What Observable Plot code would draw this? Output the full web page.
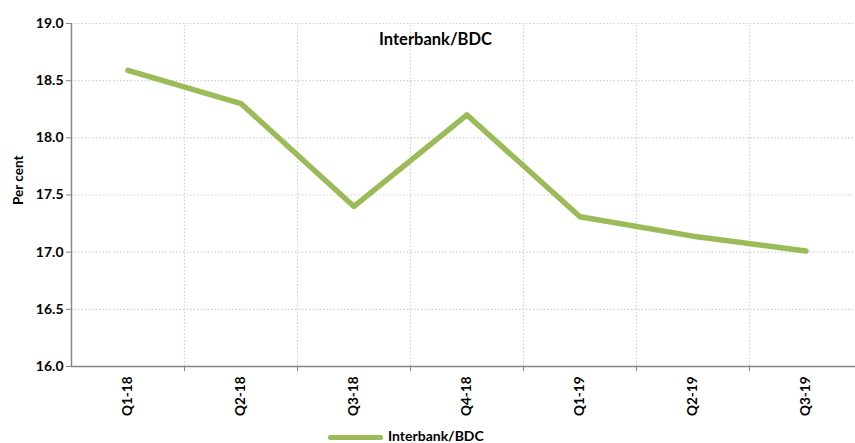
<!DOCTYPE html>
<html>
<head>
<meta charset="utf-8">
<script src="https://cdn.jsdelivr.net/npm/d3@7"></script>
<script src="https://cdn.jsdelivr.net/npm/@observablehq/plot@0.6"></script>
<style>
  html, body { margin: 0; padding: 0; background: #fff; }
  #chart svg { display: block; }
  .legend {
    height: 16px; position: relative;
    font: bold 14px Lato, "Open Sans", sans-serif; color: #000;
  }
  .legend .swatch {
    position: absolute; left: 328px; top: 8px; width: 55px; height: 5px;
    background: #9bbb59; border-radius: 3px;
  }
  .legend .label { position: absolute; left: 388px; top: 1px; line-height: 16px; }
</style>
</head>
<body>
<div id="chart"></div>
<div class="legend"><span class="swatch"></span><span class="label">Interbank/BDC</span></div>
<script>
const quarters = ["Q1-18", "Q2-18", "Q3-18", "Q4-18", "Q1-19", "Q2-19", "Q3-19"];
const rates = [18.59, 18.30, 17.40, 18.20, 17.31, 17.14, 17.01];
const yTicks = [16.0, 16.5, 17.0, 17.5, 18.0, 18.5, 19.0];
const seriesName = "Interbank/BDC";
const yLabel = "Per cent";

const data = quarters.map((q, i) => ({i, quarter: q, rate: rates[i]}));
const idx = quarters.map((q, i) => i);
const bounds = quarters.slice(1).map((q, i) => i + 0.5);

const axisGrey = "#868686";
const gridGrey = "#d0d0d0";
const font = "Lato, 'Open Sans', sans-serif";

const chart = Plot.plot({
  width: 855,
  height: 427,
  marginTop: 23,
  marginBottom: 61,
  marginLeft: 71,
  marginRight: 0,
  style: {fontFamily: font, fontWeight: "bold", fontSize: "14px", color: "#000", background: "#fff"},
  x: {type: "linear", domain: [-0.5, quarters.length - 0.5], range: [71, 862]},
  y: {domain: [16, 19]},
  marks: [
    // dotted horizontal gridlines
    Plot.ruleY(yTicks.slice(1), {stroke: gridGrey, strokeWidth: 1.2, strokeDasharray: "1.5,2"}),
    // dotted vertical gridlines between quarters
    Plot.ruleX(bounds, {y1: 16, y2: 19, stroke: gridGrey, strokeWidth: 1.2, strokeDasharray: "1.5,2"}),
    // axis lines
    Plot.ruleX([-0.5], {y1: 16, y2: 19, stroke: axisGrey, strokeWidth: 1.5}),
    Plot.ruleY([16], {stroke: axisGrey, strokeWidth: 1.5}),
    Plot.axisY({ticks: yTicks, tickFormat: d => d.toFixed(1), tickSize: 5, tickPadding: 3,
                stroke: axisGrey, label: null, fontSize: 14}),
    Plot.axisX({ticks: bounds, tickFormat: () => "", tickSize: 5, stroke: axisGrey, label: null}),
    Plot.axisX({ticks: idx, tickFormat: i => quarters[i], tickSize: 0, tickPadding: 10,
                tickRotate: -90, label: null, fontSize: 13.5}),
    // y axis title
    Plot.text([yLabel], {frameAnchor: "left", dx: -53, dy: 10, rotate: -90,
                         fontSize: 13.5, fontWeight: "bold", fill: "#000"}),
    // chart title
    Plot.text([seriesName], {frameAnchor: "top", dx: -28, dy: 10,
                             fontSize: 16.5, fontWeight: "bold", fill: "#000"}),
    // the series
    Plot.line(data, {x: "i", y: "rate", stroke: "#9bbb59", strokeWidth: 5.5,
                     strokeLinecap: "round", strokeLinejoin: "round"})
  ]
});
document.getElementById("chart").append(chart);
</script>
</body>
</html>
